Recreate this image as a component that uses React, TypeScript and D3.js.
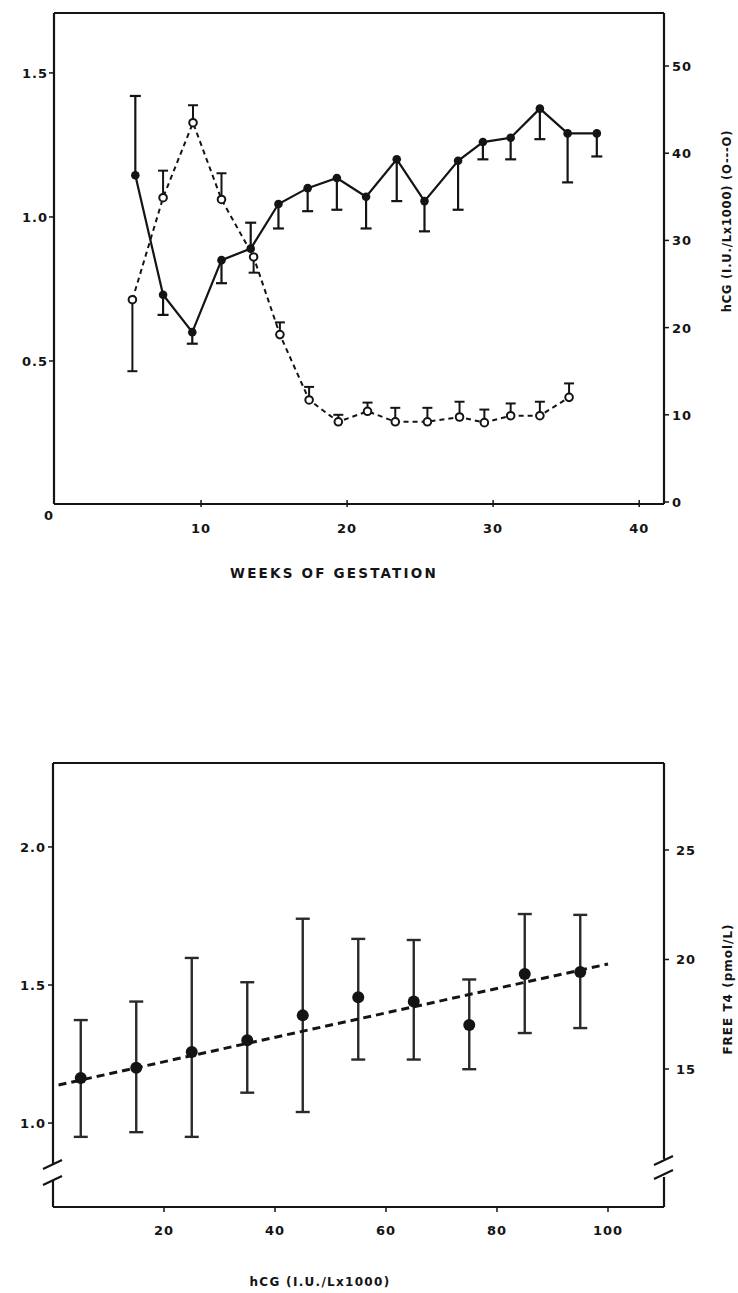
import React from "react";
import * as d3 from "d3";

// ---------- Top chart data ----------
const weeksT4 = [5.5, 7.4, 9.4, 11.4, 13.4, 15.3, 17.3, 19.3, 21.3, 23.4, 25.3, 27.6, 29.3, 31.2, 33.2, 35.1, 37.1];
const t4Ratio = [1.145, 0.73, 0.6, 0.85, 0.89, 1.045, 1.1, 1.135, 1.07, 1.2, 1.055, 1.195, 1.26, 1.275, 1.376, 1.29, 1.29];
const t4RatioBarEnd = [1.42, 0.66, 0.56, 0.77, 0.98, 0.96, 1.02, 1.025, 0.96, 1.055, 0.95, 1.025, 1.2, 1.2, 1.27, 1.12, 1.21];

const weeksHcg = [5.3, 7.4, 9.45, 11.4, 13.6, 15.4, 17.4, 19.4, 21.4, 23.3, 25.5, 27.7, 29.4, 31.2, 33.2, 35.2];
const hcgValues = [23.2, 34.9, 43.5, 34.7, 28.1, 19.2, 11.7, 9.2, 10.4, 9.2, 9.2, 9.75, 9.1, 9.9, 9.9, 12.0];
const hcgBarEnd = [15.0, 38.0, 45.5, 37.7, 26.3, 20.6, 13.2, 10.0, 11.4, 10.8, 10.8, 11.5, 10.6, 11.3, 11.5, 13.6];

const topXTicks = [10, 20, 30, 40];
const topLeftTicks = [0.5, 1.0, 1.5];
const topRightTicks = [0, 10, 20, 30, 40, 50];

// ---------- Bottom chart data ----------
const hcgBins = [5, 15, 25, 35, 45, 55, 65, 75, 85, 95];
const ratioMeans = [1.163, 1.2, 1.257, 1.3, 1.39, 1.456, 1.44, 1.355, 1.54, 1.547];
const ratioUpper = [1.373, 1.44, 1.598, 1.51, 1.74, 1.667, 1.663, 1.52, 1.757, 1.754];
const ratioLower = [0.95, 0.967, 0.95, 1.11, 1.04, 1.23, 1.23, 1.195, 1.326, 1.344];
const regX = [1, 100];
const regY = [1.138, 1.576];

const botXTicks = [20, 40, 60, 80, 100];
const botLeftTicks = [1.0, 1.5, 2.0];
const botRightTicks = [15, 20, 25];

const INK = "#141414";
const FONT = "'DejaVu Sans', 'Liberation Sans', sans-serif";

export default function App() {
  // top scales
  const xT = d3.scaleLinear().domain([0, 41.7]).range([55, 664]);
  const yTL = d3.scaleLinear().domain([0, 1.708]).range([505, 13]);
  const yTR = d3.scaleLinear().domain([0, 56.08]).range([502, 13]);
  const topLeftX = 54, topRightX = 664, topTopY = 13, topBotY = 504;

  // bottom scales
  const xB = d3.scaleLinear().domain([0, 110]).range([53, 663.5]);
  const yBL = d3.scaleLinear().domain([0.696, 2.304]).range([1207, 763]);
  const yBR = d3.scaleLinear().domain([8.7, 28.97]).range([1207, 763]);
  const botLeftX = 53, botRightX = 664, botTopY = 763, botBotY = 1207;

  const lineT4 = d3.line<number>().x((_, i) => xT(weeksT4[i])).y((d) => yTL(d));
  const lineHcg = d3.line<number>().x((_, i) => xT(weeksHcg[i])).y((d) => yTR(d));
  const lineReg = d3.line<number>().x((_, i) => xB(regX[i])).y((d) => yBL(d));

  const tickStyle = { fontFamily: FONT, fontWeight: 700, fontSize: 13, fill: INK, letterSpacing: 1 } as const;
  const breakY1 = 1165, breakY2 = 1181;

  return (
    <svg width={738} height={1293} style={{ position: "absolute", left: 0, top: 0, background: "#fff" }}>
      {/* ================= TOP CHART ================= */}
      <g stroke={INK} fill="none">
        <line x1={topLeftX} y1={topTopY} x2={topRightX} y2={topTopY} strokeWidth={2.2} />
        <line x1={topLeftX} y1={topTopY} x2={topLeftX} y2={topBotY} strokeWidth={2.2} />
        <line x1={topLeftX} y1={topBotY} x2={topRightX} y2={topBotY} strokeWidth={2.2} />
        <line x1={topRightX} y1={topTopY} x2={topRightX} y2={topBotY} strokeWidth={2.2} />
      </g>
      {topXTicks.map((t) => (
        <g key={"tx" + t}>
          <line x1={xT(t)} x2={xT(t)} y1={topBotY - 4} y2={topBotY + 3} stroke={INK} strokeWidth={1.5} />
          <text x={xT(t)} y={topBotY + 29} textAnchor="middle" {...tickStyle}>{t}</text>
        </g>
      ))}
      <text x={xT(0) - 6} y={yTL(0) + 15} textAnchor="middle" {...tickStyle}>0</text>
      {topLeftTicks.map((t) => (
        <g key={"tl" + t}>
          <line x1={topLeftX - 5} x2={topLeftX} y1={yTL(t)} y2={yTL(t)} stroke={INK} strokeWidth={1.5} />
          <text x={topLeftX - 6} y={yTL(t) + 5} textAnchor="end" {...tickStyle}>{t.toFixed(1)}</text>
        </g>
      ))}
      {topRightTicks.map((t) => (
        <g key={"tr" + t}>
          <line x1={topRightX} x2={topRightX + 5} y1={yTR(t)} y2={yTR(t)} stroke={INK} strokeWidth={1.5} />
          <text x={topRightX + 8} y={yTR(t) + 5} textAnchor="start" {...tickStyle}>{t}</text>
        </g>
      ))}
      <text x={334} y={578} textAnchor="middle" fontFamily={FONT} fontWeight={700} fontSize={13.5} letterSpacing={2.2} fill={INK}>
        WEEKS OF GESTATION
      </text>
      <text transform="translate(731,221) rotate(-90)" textAnchor="middle" fontFamily={FONT} fontWeight={700} fontSize={11.5} letterSpacing={0.8} fill={INK}>
        hCG (I.U./Lx1000) (O---O)
      </text>

      {/* hCG dashed series */}
      <path d={lineHcg(hcgValues) || ""} fill="none" stroke={INK} strokeWidth={2} strokeDasharray="5,4" />
      {hcgValues.map((v, i) => (
        <g key={"he" + i} stroke={INK} strokeWidth={2}>
          <line x1={xT(weeksHcg[i])} x2={xT(weeksHcg[i])} y1={yTR(v)} y2={yTR(hcgBarEnd[i])} />
          <line x1={xT(weeksHcg[i]) - 5} x2={xT(weeksHcg[i]) + 5} y1={yTR(hcgBarEnd[i])} y2={yTR(hcgBarEnd[i])} />
        </g>
      ))}
      {hcgValues.map((v, i) => (
        <circle key={"hc" + i} cx={xT(weeksHcg[i])} cy={yTR(v)} r={3.8} fill="#fff" stroke={INK} strokeWidth={2} />
      ))}

      {/* T4 ratio solid series */}
      <path d={lineT4(t4Ratio) || ""} fill="none" stroke={INK} strokeWidth={2.2} />
      {t4Ratio.map((v, i) => (
        <g key={"te" + i} stroke={INK} strokeWidth={2.2}>
          <line x1={xT(weeksT4[i])} x2={xT(weeksT4[i])} y1={yTL(v)} y2={yTL(t4RatioBarEnd[i])} />
          <line x1={xT(weeksT4[i]) - 5.5} x2={xT(weeksT4[i]) + 5.5} y1={yTL(t4RatioBarEnd[i])} y2={yTL(t4RatioBarEnd[i])} />
        </g>
      ))}
      {t4Ratio.map((v, i) => (
        <circle key={"tc" + i} cx={xT(weeksT4[i])} cy={yTL(v)} r={4.3} fill={INK} />
      ))}

      {/* ================= BOTTOM CHART ================= */}
      <g stroke={INK} fill="none" strokeWidth={2.2}>
        <line x1={botLeftX} y1={botTopY} x2={botRightX} y2={botTopY} />
        <line x1={botLeftX} y1={botTopY} x2={botLeftX} y2={breakY1} />
        <line x1={botLeftX} y1={breakY2} x2={botLeftX} y2={botBotY} />
        <line x1={botLeftX} y1={botBotY} x2={botRightX} y2={botBotY} />
        <line x1={botRightX} y1={botTopY} x2={botRightX} y2={breakY1 - 6} />
        <line x1={botRightX} y1={breakY2 - 4} x2={botRightX} y2={botBotY} />
        {/* break marks */}
        <line x1={botLeftX - 10} y1={breakY1 + 4} x2={botLeftX + 9} y2={breakY1 - 5} />
        <line x1={botLeftX - 10} y1={breakY2 + 4} x2={botLeftX + 9} y2={breakY2 - 5} />
        <line x1={botRightX - 10} y1={breakY1} x2={botRightX + 9} y2={breakY1 - 9} />
        <line x1={botRightX - 10} y1={breakY2 - 2} x2={botRightX + 9} y2={breakY2 - 11} />
      </g>
      {botXTicks.map((t) => (
        <g key={"bx" + t}>
          <line x1={xB(t)} x2={xB(t)} y1={botBotY} y2={botBotY + 5} stroke={INK} strokeWidth={1.5} />
          <text x={xB(t)} y={botBotY + 28} textAnchor="middle" {...tickStyle}>{t}</text>
        </g>
      ))}
      {botLeftTicks.map((t) => (
        <g key={"bl" + t}>
          <line x1={botLeftX - 5} x2={botLeftX} y1={yBL(t)} y2={yBL(t)} stroke={INK} strokeWidth={1.5} />
          <text x={botLeftX - 7} y={yBL(t) + 5} textAnchor="end" {...tickStyle}>{t.toFixed(1)}</text>
        </g>
      ))}
      {botRightTicks.map((t) => (
        <g key={"br" + t}>
          <line x1={botRightX} x2={botRightX + 5} y1={yBR(t)} y2={yBR(t)} stroke={INK} strokeWidth={1.5} />
          <text x={botRightX + 12} y={yBR(t) + 5} textAnchor="start" {...tickStyle}>{t}</text>
        </g>
      ))}
      <text x={320} y={1286} textAnchor="middle" fontFamily={FONT} fontWeight={700} fontSize={12} letterSpacing={1.3} fill={INK}>
        hCG (I.U./Lx1000)
      </text>
      <text transform="translate(732,989) rotate(-90)" textAnchor="middle" fontFamily={FONT} fontWeight={700} fontSize={12} letterSpacing={1} fill={INK}>
        FREE T4 (pmol/L)
      </text>

      {/* error bars */}
      {ratioMeans.map((_, i) => (
        <g key={"be" + i} stroke="#2a2a2a" strokeWidth={2.4}>
          <line x1={xB(hcgBins[i])} x2={xB(hcgBins[i])} y1={yBL(ratioUpper[i])} y2={yBL(ratioLower[i])} />
          <line x1={xB(hcgBins[i]) - 7} x2={xB(hcgBins[i]) + 7} y1={yBL(ratioUpper[i])} y2={yBL(ratioUpper[i])} />
          <line x1={xB(hcgBins[i]) - 7} x2={xB(hcgBins[i]) + 7} y1={yBL(ratioLower[i])} y2={yBL(ratioLower[i])} />
        </g>
      ))}
      <path d={lineReg(regY) || ""} fill="none" stroke={INK} strokeWidth={3} strokeDasharray="8,5" />
      {ratioMeans.map((v, i) => (
        <circle key={"bc" + i} cx={xB(hcgBins[i])} cy={yBL(v)} r={6} fill={INK} />
      ))}
    </svg>
  );
}
